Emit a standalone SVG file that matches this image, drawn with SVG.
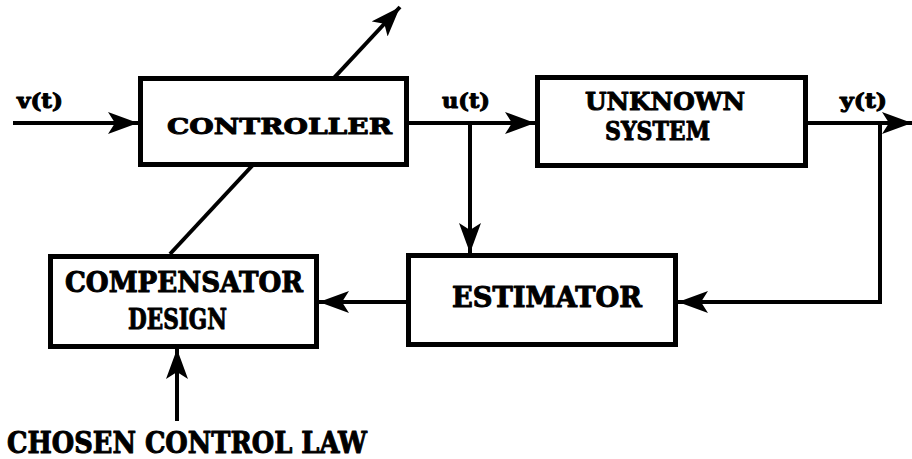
<svg xmlns="http://www.w3.org/2000/svg" width="912" height="459" viewBox="0 0 912 459">
  <style>
    .box { fill: #fff; stroke: #000; stroke-width: 5; }
    .wire { fill: none; stroke: #000; stroke-width: 4; }
    .lbl { font-family: "DejaVu Serif", "Liberation Serif", serif; font-weight: bold; fill: #000; stroke: #000; stroke-width: 1; stroke-linejoin: round; }
  </style>
  <defs>
    <marker id="head" markerUnits="userSpaceOnUse" markerWidth="32" markerHeight="24" refX="30" refY="11" orient="auto" viewBox="0 0 32 24">
      <path d="M0,0 L30,11 L0,22 L7,11 Z" fill="#000"/>
    </marker>
  </defs>

  <!-- adjustment path through the controller (drawn beneath the boxes) -->
  <g id="adjust">
    <path class="wire" d="M170,254 L400,7" marker-end="url(#head)"/>
  </g>

  <g id="connectors">
    <path class="wire" d="M13,123 H138" marker-end="url(#head)"/>
    <path class="wire" d="M409,123 H535" marker-end="url(#head)"/>
    <path class="wire" d="M470,123 V253" marker-end="url(#head)"/>
    <path class="wire" d="M808,123 H912" marker-end="url(#head)"/>
    <path class="wire" d="M880,123 V302 H678" marker-end="url(#head)"/>
    <path class="wire" d="M406,302 H319" marker-end="url(#head)"/>
    <path class="wire" d="M177,421 V349" marker-end="url(#head)"/>
  </g>

  <g id="controller">
    <rect class="box" x="140.5" y="78.5" width="266" height="86"/>
    <text class="lbl" x="167" y="134" font-size="23" textLength="225" lengthAdjust="spacingAndGlyphs">CONTROLLER</text>
  </g>

  <g id="unknown-system">
    <rect class="box" x="537.5" y="77.5" width="268" height="88"/>
    <text class="lbl" x="585" y="110" font-size="25" textLength="160" lengthAdjust="spacingAndGlyphs">UNKNOWN</text>
    <text class="lbl" x="605" y="140" font-size="26" textLength="105" lengthAdjust="spacingAndGlyphs">SYSTEM</text>
  </g>

  <g id="estimator">
    <rect class="box" x="408.5" y="255.5" width="267" height="89"/>
    <text class="lbl" x="452" y="307" font-size="27" textLength="190" lengthAdjust="spacingAndGlyphs">ESTIMATOR</text>
  </g>

  <g id="compensator-design">
    <rect class="box" x="50.5" y="256.5" width="266" height="90"/>
    <text class="lbl" x="65" y="292" font-size="27" textLength="238" lengthAdjust="spacingAndGlyphs">COMPENSATOR</text>
    <text class="lbl" x="128" y="329" font-size="28" textLength="99" lengthAdjust="spacingAndGlyphs">DESIGN</text>
  </g>

  <g id="signal-labels">
    <text class="lbl" x="17" y="108" font-size="20" textLength="46" lengthAdjust="spacingAndGlyphs">v(t)</text>
    <text class="lbl" x="442" y="108" font-size="20" textLength="48" lengthAdjust="spacingAndGlyphs">u(t)</text>
    <text class="lbl" x="840" y="108" font-size="20" textLength="47" lengthAdjust="spacingAndGlyphs">y(t)</text>
    <text class="lbl" x="7" y="453" font-size="29" textLength="360" lengthAdjust="spacingAndGlyphs">CHOSEN CONTROL LAW</text>
  </g>
</svg>
